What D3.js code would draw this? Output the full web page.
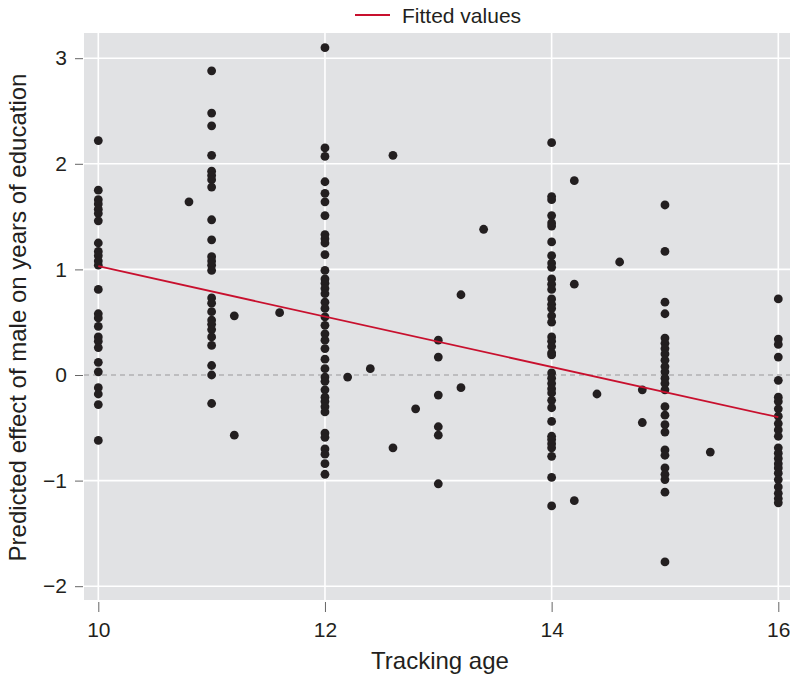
<!DOCTYPE html>
<html>
<head>
<meta charset="utf-8">
<script src="https://cdn.jsdelivr.net/npm/d3@7"></script>
<style>
  body { margin: 0; background: #fff; }
  svg text { font-family: "Liberation Sans Narrow", "Liberation Sans", Arial, sans-serif; fill: #231f20; }
</style>
</head>
<body>
<div id="chart"></div>
<script>
// tracking age columns and the predicted effects
var age10 = [2.22, 1.75, 1.66, 1.62, 1.57, 1.53, 1.46, 1.25, 1.17, 1.13, 1.08, 1.04, 0.81, 0.58, 0.54, 0.46, 0.36, 0.32, 0.26, 0.12, 0.03, -0.12, -0.18, -0.28, -0.62];
var age11 = [2.88, 2.48, 2.36, 2.08, 1.93, 1.89, 1.85, 1.78, 1.47, 1.28, 1.12, 1.08, 1.04, 0.99, 0.73, 0.68, 0.60, 0.52, 0.48, 0.43, 0.36, 0.28, 0.09, 0.0, -0.27];
var age12 = [3.10, 2.15, 2.07, 1.83, 1.72, 1.64, 1.51, 1.33, 1.29, 1.25, 1.14, 0.99, 0.91, 0.87, 0.82, 0.77, 0.69, 0.63, 0.55, 0.47, 0.39, 0.33, 0.25, 0.15, 0.06, -0.02, -0.06, -0.14, -0.21, -0.25, -0.30, -0.35, -0.55, -0.59, -0.70, -0.75, -0.84, -0.94];
var age13 = [0.33, 0.17, -0.19, -0.49, -0.57, -1.03];
var age14 = [2.20, 1.69, 1.66, 1.51, 1.44, 1.41, 1.26, 1.13, 1.06, 1.02, 0.91, 0.86, 0.81, 0.72, 0.67, 0.63, 0.56, 0.50, 0.36, 0.32, 0.27, 0.21, 0.19, 0.02, -0.03, -0.08, -0.13, -0.17, -0.24, -0.31, -0.44, -0.58, -0.61, -0.65, -0.69, -0.77, -0.97, -1.24];
var age15 = [1.61, 1.17, 0.69, 0.58, 0.35, 0.30, 0.25, 0.20, 0.14, 0.08, 0.03, -0.03, -0.08, -0.14, -0.30, -0.38, -0.47, -0.54, -0.71, -0.76, -0.88, -0.94, -0.99, -1.11, -1.77];
var age16 = [0.72, 0.34, 0.29, 0.17, -0.05, -0.21, -0.25, -0.32, -0.39, -0.46, -0.52, -0.58, -0.69, -0.74, -0.79, -0.84, -0.88, -0.93, -0.99, -1.06, -1.12, -1.17, -1.21];
// scattered points between the integer ages
var otherAges = [10.8, 11.2, 11.2, 11.6, 12.2, 12.4, 12.6, 12.6, 12.8, 13.2, 13.2, 13.4, 14.2, 14.2, 14.2, 14.4, 14.6, 14.8, 14.8, 15.4];
var otherVals = [1.64, 0.56, -0.57, 0.59, -0.02, 0.06, 2.08, -0.69, -0.32, 0.76, -0.12, 1.38, 1.84, 0.86, -1.19, -0.18, 1.07, -0.14, -0.45, -0.73];
// fitted values at the ends of the age range
var fitAges = [10, 16];
var fitVals = [1.03, -0.40];
var xTicks = [10, 12, 14, 16];
var yTicks = [-2, -1, 0, 1, 2, 3];

var W = 790, H = 677;
var plotL = 84, plotR = 790, plotT = 33, plotB = 600;

var svg = d3.select("#chart").append("svg")
  .attr("width", W)
  .attr("height", H);

var x = d3.scaleLinear().domain([10, 16]).range([98.3, 778.3]);
var y = d3.scaleLinear().domain([0, 3]).range([375, 58.2]);

//plot background
svg.append("rect")
  .attr("x", plotL).attr("y", plotT)
  .attr("width", plotR - plotL).attr("height", plotB - plotT)
  .attr("fill", "#e1e2e4");

//grid lines
svg.append("g").selectAll("line").data(yTicks.filter(function(d){ return d !== 0; }))
  .join("line")
  .attr("x1", plotL).attr("x2", plotR)
  .attr("y1", function(d){ return y(d); }).attr("y2", function(d){ return y(d); })
  .attr("stroke", "#fff").attr("stroke-width", 1.6);
svg.append("g").selectAll("line").data(xTicks)
  .join("line")
  .attr("x1", function(d){ return x(d); }).attr("x2", function(d){ return x(d); })
  .attr("y1", plotT).attr("y2", plotB)
  .attr("stroke", "#fff").attr("stroke-width", 1.6);

//zero reference line
svg.append("line")
  .attr("x1", plotL).attr("x2", plotR)
  .attr("y1", y(0)).attr("y2", y(0))
  .attr("stroke", "#bdbdbf").attr("stroke-width", 1.8)
  .attr("stroke-dasharray", "5,4");

//axes
var xAxis = svg.append("g")
  .attr("transform", "translate(0," + (plotB + 2) + ")")
  .call(d3.axisBottom(x).tickValues(xTicks).tickSize(10).tickPadding(10).tickFormat(d3.format("d")));
var yAxis = svg.append("g")
  .attr("transform", "translate(" + (plotL - 1) + ",0)")
  .call(d3.axisLeft(y).tickValues(yTicks).tickSize(8).tickPadding(8)
    .tickFormat(function(d){ return d < 0 ? "\u2212" + Math.abs(d) : d; }));
[xAxis, yAxis].forEach(function(a){
  a.select(".domain").remove();
  a.selectAll(".tick line").attr("stroke", "#666").attr("stroke-width", 1);
  a.selectAll(".tick text").attr("font-size", 21).attr("fill", "#231f20")
    .style("font-family", "'Liberation Sans Narrow', 'Liberation Sans', Arial, sans-serif");
});
xAxis.selectAll(".tick text").filter(function(d){ return d === 16; }).attr("text-anchor", "end").attr("dx", "0.55em");

//points
var pts = [];
[[10, age10], [11, age11], [12, age12], [13, age13], [14, age14], [15, age15], [16, age16]].forEach(function(c){
  c[1].forEach(function(v){ pts.push([c[0], v]); });
});
otherAges.forEach(function(a, i){ pts.push([a, otherVals[i]]); });

svg.append("g").selectAll("circle").data(pts)
  .join("circle")
  .attr("cx", function(d){ return x(d[0]); })
  .attr("cy", function(d){ return y(d[1]); })
  .attr("r", 4.4)
  .attr("fill", "#231f20");

//fitted line
svg.append("path")
  .datum(fitAges.map(function(a, i){ return [a, fitVals[i]]; }))
  .attr("fill", "none")
  .attr("stroke", "#c8102e")
  .attr("stroke-width", 1.8)
  .attr("d", d3.line().x(function(d){ return x(d[0]); }).y(function(d){ return y(d[1]); }));

//legend
svg.append("line")
  .attr("x1", 355).attr("x2", 390).attr("y1", 15).attr("y2", 15)
  .attr("stroke", "#c8102e").attr("stroke-width", 1.8);
svg.append("text")
  .attr("x", 402).attr("y", 23)
  .attr("font-size", 21)
  .text("Fitted values");

//axis titles
svg.append("text")
  .attr("x", (plotL + plotR) / 2 + 3).attr("y", 669)
  .attr("text-anchor", "middle")
  .attr("font-size", 24)
  .text("Tracking age");
svg.append("text")
  .attr("transform", "translate(26," + ((plotT + plotB) / 2 + 1) + ") rotate(-90)")
  .attr("text-anchor", "middle")
  .attr("font-size", 24)
  .text("Predicted effect of male on years of education");
</script>
</body>
</html>
